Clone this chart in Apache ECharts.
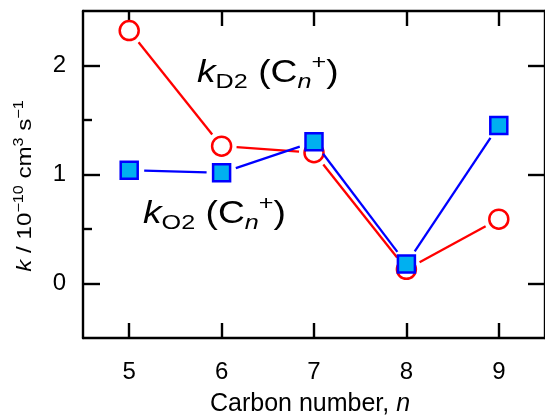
<!DOCTYPE html>
<html><head><meta charset="utf-8">
<script src="https://cdn.jsdelivr.net/npm/echarts@6/dist/echarts.min.js"></script>
<style>html,body{margin:0;padding:0;background:#fff}#c{width:545px;height:417px}</style>
</head><body><div id="c"></div>
<script>
const categories = ['5', '6', '7', '8', '9'];
const kD2 = [2.32, 1.26, 1.20, 0.13, 0.59];
const kO2 = [1.04, 1.015, 1.30, 0.18, 1.45];
const yMajorTicks = [0, 1, 2];
const yMinorTicks = [0.5, 1.5];

const FONT = 'Liberation Sans';

function segments(vals) {
  const s = [];
  for (let i = 0; i < vals.length - 1; i++) s.push([i, vals[i], i + 1, vals[i + 1]]);
  return s;
}
function gapLine(color, gap) {
  return function (params, api) {
    const p1 = api.coord([api.value(0), api.value(1)]);
    const p2 = api.coord([api.value(2), api.value(3)]);
    const dx = p2[0] - p1[0], dy = p2[1] - p1[1];
    const L = Math.hypot(dx, dy);
    if (L <= 2 * gap) return null;
    const ux = dx / L, uy = dy / L;
    return {
      type: 'line',
      shape: { x1: p1[0] + ux * gap, y1: p1[1] + uy * gap, x2: p2[0] - ux * gap, y2: p2[1] - uy * gap },
      style: { stroke: color, lineWidth: 2.3 }
    };
  };
}

const axisLineStyle = { show: true, onZero: false, lineStyle: { color: '#000', width: 2.4 } };
const tickLine = { color: '#000', width: 2.4 };
const yRange = { min: -0.5, max: 2.5 };

const annRich = {
  k: { fontSize: 31, fontStyle: 'italic', fontFamily: FONT, lineHeight: 40 },
  m: { fontSize: 31, fontFamily: FONT, lineHeight: 40 },
  sub: { fontSize: 21, fontFamily: FONT, verticalAlign: 'bottom', lineHeight: 21 },
  subi: { fontSize: 21, fontStyle: 'italic', fontFamily: FONT, verticalAlign: 'bottom', lineHeight: 21 },
  sup: { fontSize: 21, fontFamily: FONT, verticalAlign: 'top', lineHeight: 21 }
};

const chart = echarts.init(document.getElementById('c'), null, { renderer: 'canvas' });
chart.setOption({
  animation: false,
  backgroundColor: '#fff',
  textStyle: { fontFamily: FONT },
  grid: { left: 83, top: 11, width: 471, height: 327, containLabel: false },
  xAxis: [
    {
      type: 'category', data: categories, position: 'bottom', boundaryGap: true,
      axisLine: axisLineStyle,
      axisTick: { show: true, alignWithLabel: true, inside: true, length: 15, lineStyle: tickLine },
      axisLabel: { show: true, color: '#000', fontSize: 24, fontFamily: FONT, margin: 22 },
      splitLine: { show: false }
    },
    {
      type: 'category', data: categories, position: 'top', boundaryGap: true,
      axisLine: axisLineStyle,
      axisTick: { show: true, alignWithLabel: true, inside: true, length: 15, lineStyle: tickLine },
      axisLabel: { show: false },
      splitLine: { show: false }
    }
  ],
  yAxis: [
    {
      type: 'value', position: 'left', ...yRange, interval: 0.5,
      axisLine: axisLineStyle,
      axisTick: { show: true, inside: true, length: 17, customValues: yMajorTicks, lineStyle: tickLine },
      axisLabel: { show: true, customValues: yMajorTicks, color: '#000', fontSize: 24, fontFamily: FONT, margin: 17 },
      splitLine: { show: false }
    },
    {
      type: 'value', position: 'left', ...yRange, interval: 0.5,
      axisLine: { show: false, onZero: false },
      axisTick: { show: true, inside: true, length: 9, customValues: yMinorTicks, lineStyle: tickLine },
      axisLabel: { show: false },
      splitLine: { show: false }
    },
    {
      type: 'value', position: 'right', ...yRange, interval: 0.5,
      axisLine: axisLineStyle,
      axisTick: { show: true, inside: true, length: 17, customValues: yMajorTicks, lineStyle: tickLine },
      axisLabel: { show: false },
      splitLine: { show: false }
    }
  ],
  series: [
    {
      type: 'custom', name: 'D2 line', xAxisIndex: 0, yAxisIndex: 0, z: 2,
      data: segments(kD2), encode: { x: [0, 2], y: [1, 3] },
      renderItem: gapLine('#ff0000', 15), clip: false, silent: true
    },
    {
      type: 'scatter', name: 'kD2', xAxisIndex: 0, yAxisIndex: 0, z: 3,
      data: kD2, symbol: 'circle', symbolSize: 19,
      itemStyle: { color: '#ffffff', borderColor: '#ff0000', borderWidth: 2.5, opacity: 1 }
    },
    {
      type: 'custom', name: 'O2 line', xAxisIndex: 0, yAxisIndex: 0, z: 4,
      data: segments(kO2), encode: { x: [0, 2], y: [1, 3] },
      renderItem: gapLine('#0000ff', 15), clip: false, silent: true
    },
    {
      type: 'scatter', name: 'kO2', xAxisIndex: 0, yAxisIndex: 0, z: 5,
      data: kO2, symbol: 'rect', symbolSize: 17,
      itemStyle: { color: '#00b0f0', borderColor: '#0000ff', borderWidth: 2.5, opacity: 1 }
    }
  ],
  graphic: [
    {
      type: 'text', x: 197, y: 73, scaleX: 1.2, z: 10,
      style: {
        text: '{k|k}{sub|D2}{m| (C}{subi|n}{sup|+}{m|)}',
        align: 'left', verticalAlign: 'middle', fill: '#000', rich: annRich
      }
    },
    {
      type: 'text', x: 143, y: 214, scaleX: 1.2, z: 10,
      style: {
        text: '{k|k}{sub|O2}{m| (C}{subi|n}{sup|+}{m|)}',
        align: 'left', verticalAlign: 'middle', fill: '#000', rich: annRich
      }
    },
    {
      type: 'text', x: 25, y: 186, rotation: Math.PI / 2, scaleX: 1.15, z: 10,
      style: {
        text: '{i|k}{n| / 10}{sup|−10}{n| cm}{sup|3}{n| s}{sup|−1}',
        align: 'center', verticalAlign: 'middle', fill: '#000',
        rich: {
          i: { fontSize: 21, fontStyle: 'italic', fontFamily: FONT, lineHeight: 26 },
          n: { fontSize: 21, fontFamily: FONT, lineHeight: 26 },
          sup: { fontSize: 14, fontFamily: FONT, verticalAlign: 'top', lineHeight: 14 }
        }
      }
    },
    {
      type: 'text', x: 310, y: 404, z: 10,
      style: {
        text: '{n|Carbon number, }{i|n}',
        align: 'center', verticalAlign: 'middle', fill: '#000',
        rich: {
          n: { fontSize: 25, fontFamily: FONT },
          i: { fontSize: 25, fontStyle: 'italic', fontFamily: FONT }
        }
      }
    }
  ]
});
</script>
</body></html>
